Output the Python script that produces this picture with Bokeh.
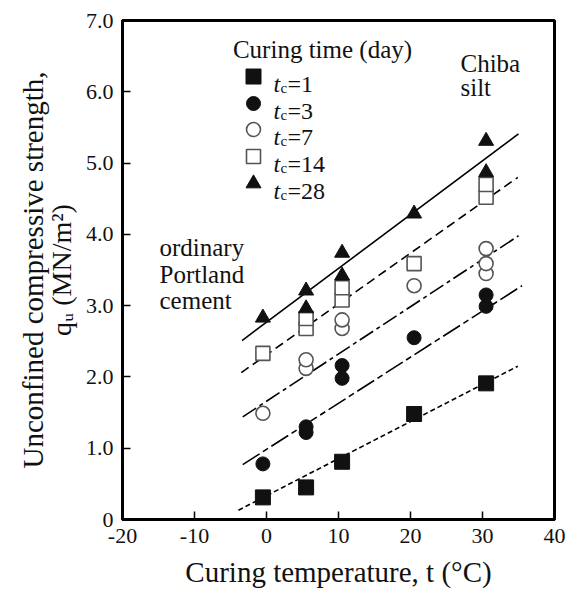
import math
from bokeh.plotting import figure
from bokeh.models import Range1d, Label, CustomJSTickFormatter, FixedTicker, LinearAxis
from bokeh.embed import file_html
from bokeh.resources import INLINE

# ---------------- data ----------------
x_ticks = [-20, -10, 0, 10, 20, 30, 40]
y_ticks = [0, 1, 2, 3, 4, 5, 6, 7]

tc1_x = [-0.5, 5.5, 10.5, 20.5, 30.5]
tc1_y = [0.31, 0.45, 0.81, 1.48, 1.91]

tc3_x = [-0.5, 5.5, 5.5, 10.5, 10.5, 20.5, 30.5, 30.5]
tc3_y = [0.78, 1.22, 1.30, 1.98, 2.16, 2.55, 2.99, 3.15]

tc7_x = [-0.5, 5.5, 5.5, 10.5, 10.5, 20.5, 30.5, 30.5, 30.5]
tc7_y = [1.49, 2.12, 2.24, 2.68, 2.80, 3.28, 3.45, 3.59, 3.80]

tc14_x = [-0.5, 5.5, 5.5, 10.5, 10.5, 20.5, 30.5, 30.5]
tc14_y = [2.33, 2.68, 2.82, 3.08, 3.25, 3.59, 4.52, 4.70]

tc28_x = [-0.5, 5.5, 5.5, 10.5, 10.5, 20.5, 30.5, 30.5]
tc28_y = [2.83, 2.96, 3.21, 3.42, 3.74, 4.29, 4.87, 5.31]

# fitted lines (start / end)
fit_tc1_x = [-3.9, 34.9]
fit_tc1_y = [0.13, 2.15]
fit_tc3_x = [-3.3, 35.5]
fit_tc3_y = [0.77, 3.28]
fit_tc7_x = [-3.3, 35.0]
fit_tc7_y = [1.44, 3.98]
fit_tc14_x = [-3.5, 34.9]
fit_tc14_y = [2.06, 4.80]
fit_tc28_x = [-3.4, 35.0]
fit_tc28_y = [2.51, 5.41]

legend_values = ["1", "3", "7", "14", "28"]

x_label = "Curing temperature, t (°C)"
y_label_1 = "Unconfined compressive strength,"
y_label_2 = "qᵤ (MN/m²)"

# ---------------- figure ----------------
FONT = "Liberation Serif"
p = figure(width=571, height=591, x_range=Range1d(-20, 40), y_range=Range1d(0, 7),
           output_backend="svg", toolbar_location=None,
           min_border_left=122, min_border_right=17, min_border_top=20, min_border_bottom=72)
p.grid.visible = False
p.outline_line_color = "black"
p.outline_line_width = 3
p.background_fill_color = "white"
p.border_fill_color = "white"

for ax in (p.xaxis[0], p.yaxis[0]):
    ax.axis_line_width = 3
    ax.axis_line_color = "black"
    ax.major_tick_in = 8
    ax.major_tick_out = 0
    ax.major_tick_line_width = 1.5
    ax.minor_tick_line_color = None
    ax.major_label_text_font = FONT
    ax.major_label_text_font_size = "22px"
    ax.major_label_text_color = "#111"
    ax.major_label_standoff = 9
    ax.axis_label_text_font = FONT
    ax.axis_label_text_font_style = "normal"
    ax.axis_label_text_color = "#111"

p.xaxis.ticker = FixedTicker(ticks=x_ticks)
p.yaxis.ticker = FixedTicker(ticks=y_ticks)
p.xaxis.formatter = CustomJSTickFormatter(code="return tick.toFixed(0);")
p.yaxis.formatter = CustomJSTickFormatter(code="return tick == 0 ? '0' : tick.toFixed(1);")

p.xaxis.axis_label = x_label
p.xaxis.axis_label_text_font_size = "29px"
p.xaxis.axis_label_standoff = 10

p.yaxis.axis_label = y_label_2
p.yaxis.axis_label_text_font_size = "28px"
p.yaxis.axis_label_standoff = 6

outer = LinearAxis(ticker=FixedTicker(ticks=[]), axis_line_color=None,
                   major_tick_line_color=None, minor_tick_line_color=None,
                   major_label_text_font_size="0px",
                   axis_label=y_label_1, axis_label_standoff=-6,
                   axis_label_text_font=FONT, axis_label_text_font_style="normal",
                   axis_label_text_font_size="29px", axis_label_text_color="#111")
p.add_layout(outer, "left")

# fit lines
p.line(fit_tc28_x, fit_tc28_y, line_color="black", line_width=1.6)
p.line(fit_tc14_x, fit_tc14_y, line_color="black", line_width=1.6, line_dash="9 5")
p.line(fit_tc7_x, fit_tc7_y, line_color="black", line_width=1.6, line_dash="16 4 4 4")
p.line(fit_tc3_x, fit_tc3_y, line_color="black", line_width=1.6, line_dash="20 4 6 4")
p.line(fit_tc1_x, fit_tc1_y, line_color="black", line_width=1.6, line_dash="5 3")

# markers
styles = [
    dict(marker="square", size=15, fill_color="#111", line_color="#111", line_width=1),
    dict(marker="circle", size=14, fill_color="#111", line_color="#111", line_width=1),
    dict(marker="circle", size=14, fill_color="white", line_color="#555", line_width=1.6),
    dict(marker="square", size=14, fill_color="white", line_color="#555", line_width=1.6),
    dict(marker="triangle", size=15, fill_color="#111", line_color="#111", line_width=1),
]
series = [(tc1_x, tc1_y), (tc3_x, tc3_y), (tc7_x, tc7_y), (tc14_x, tc14_y), (tc28_x, tc28_y)]
for (xs, ys), st in zip(series, styles):
    p.scatter(xs, ys, **st)

# pixel -> data helpers for annotation placement
def dx(px):
    return -20 + (px - 122) / 7.2

def dy(py):
    return (519 - py) / 71.29

def lab(px, py, text, size="25px", style="normal", align="left", angle=0.0, baseline="alphabetic"):
    p.add_layout(Label(x=dx(px), y=dy(py), text=text, text_font=FONT, text_font_size=size,
                       text_font_style=style, text_align=align, text_baseline=baseline,
                       angle=angle, text_color="#111"))

# legend
lab(322, 49, "Curing time (day)", align="center")
row_base = [83, 110, 136, 163, 190]
for i, (val, st) in enumerate(zip(legend_values, styles)):
    b = row_base[i]
    p.scatter([dx(253)], [dy(b - 7)], **st)
    lab(273, b, "t", size="24px", style="italic")
    lab(280, b + 4, "c", size="15px")
    lab(287, b, "=" + val, size="24px")

# annotations
lab(460, 63, "Chiba")
lab(460, 87, "silt")
lab(159, 247, "ordinary")
lab(159, 274, "Portland")
lab(159, 300, "cement")

open("out.html", "w").write(file_html(p, INLINE))
